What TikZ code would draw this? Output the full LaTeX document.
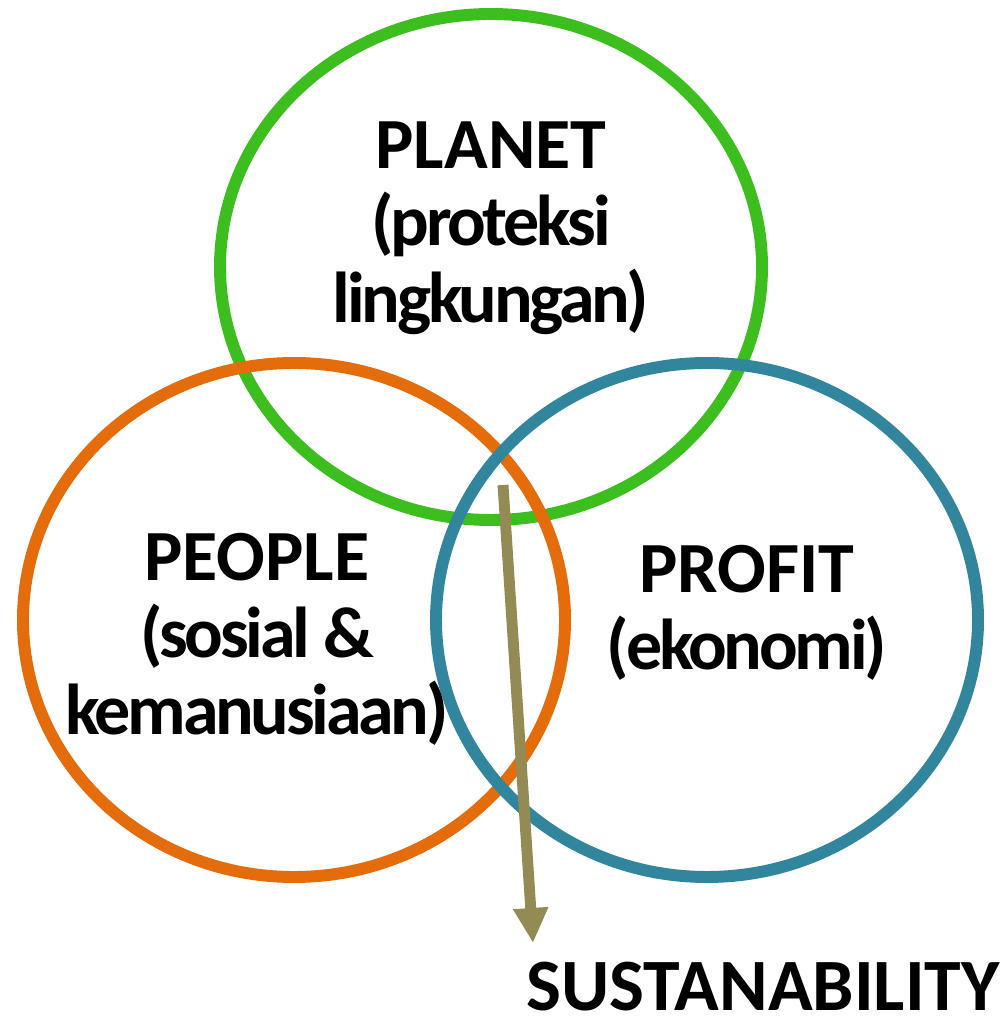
\documentclass[tikz,border=0pt]{standalone}
\usepackage{fontspec}
\setmainfont{Carlito}
\usetikzlibrary{arrows.meta}
\definecolor{planetgreen}{HTML}{3DBE1F}
\definecolor{peopleorange}{HTML}{E46C0A}
\definecolor{profitblue}{HTML}{31859C}
\definecolor{arrowolive}{HTML}{948A54}
\newcommand{\tightline}[1]{{\addfontfeature{LetterSpace=-4.5}#1}}

\begin{document}
\begin{tikzpicture}[
  ring/.style={line width=3.4pt},
  lbl/.style={anchor=base, align=center, inner sep=0pt,
    font=\fontsize{20.5}{22}\selectfont\bfseries}]
  \useasboundingbox (0,0) rectangle (10.07,10.25);
  % Định nghĩa các điểm
  \coordinate (Cplanet) at (4.91,7.58);
  \coordinate (Cpeople) at (2.94,4.05);
  \coordinate (Cprofit) at (7.07,4.05);
  \coordinate (S0) at (5.03,5.40);
  \coordinate (S1) at (5.33,0.82);
  % 1. Ba vòng elip
  \draw[ring, planetgreen] (Cplanet) ellipse [x radius=2.71, y radius=2.53];
  \draw[ring, peopleorange] (Cpeople) ellipse [x radius=2.71, y radius=2.57];
  \draw[ring, profitblue] (Cprofit) ellipse [x radius=2.71, y radius=2.57];
  % 2. Nhãn trong các vòng (neo tại dòng cuối)
  \node[lbl] (planet) at (4.91,7.02) {PLANET\\\tightline{(proteksi}\\\tightline{lingkungan)}};
  \node[lbl] (people) at (2.57,2.90) {PEOPLE\\\tightline{(sosial \&}\\\tightline{kemanusiaan)}};
  \node[lbl] (profit) at (7.47,3.55) {PROFIT\\\tightline{(ekonomi)}};
  % 3. Mũi tên và nhãn kết quả
  \draw[-{Triangle[width=0.33cm, length=0.35cm]}, line width=3.1pt, arrowolive] (S0) -- (S1);
  \node[lbl, font=\fontsize{21}{22}\selectfont\bfseries] (sust) at (7.63,0.14) {SUSTANABILITY};
\end{tikzpicture}
\end{document}
